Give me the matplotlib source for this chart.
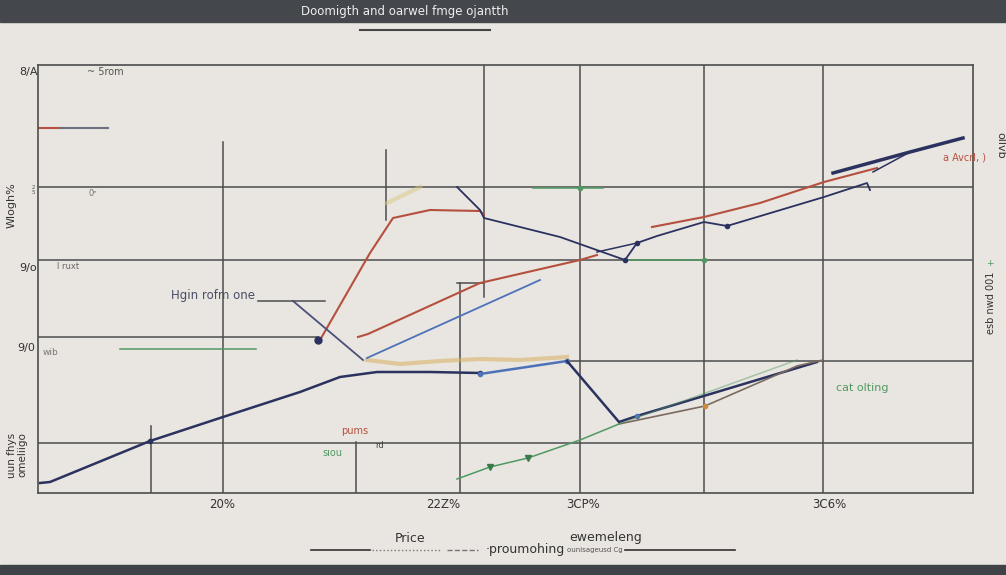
import matplotlib
matplotlib.use("Agg")
import matplotlib.pyplot as plt
from matplotlib.lines import Line2D
from matplotlib.patches import Rectangle

W, H = 1006, 575
BG = "#e9e5e0"
GRID = "#4d4d4f"
NAVY = "#2b3260"
RED = "#b5503f"
BLUE = "#4d72b8"
GREEN = "#4f9a62"
BROWN = "#7a6a60"

# series (x across, y down from the top of the plot)
navy_x = [40, 50, 150, 223, 300, 340, 377, 430, 480]
navy_y = [483, 482, 441, 417, 392, 377, 372, 372, 373]
link_x = [480, 567]
link_y = [374, 361]
drop_x = [567, 619, 637, 817]
drop_y = [361, 422, 416, 362]
brown_x = [619, 705, 797, 823]
brown_y = [424, 406, 366, 360]
green_x = [457, 490, 528, 580, 619]
green_y = [479, 467, 458, 440, 424]
green_faint_x = [619, 700, 797]
green_faint_y = [424, 395, 360]
red_up_x = [320, 347, 370, 393, 430, 480, 484]
red_up_y = [340, 293, 253, 218, 210, 211, 215]
mid_x = [457, 480, 484, 560, 625, 637, 657, 704, 727, 824, 867, 870]
mid_y = [187, 210, 218, 237, 260, 243, 236, 222, 226, 197, 183, 190]
red_low_x = [358, 368, 480, 580, 597]
red_low_y = [337, 334, 283, 260, 255]
red_right_x = [652, 704, 760, 824, 877]
red_right_y = [227, 217, 203, 182, 168]
blue_low_x = [367, 540]
blue_low_y = [358, 280]
top_x = [833, 910, 963]
top_y = [173, 152, 138]
high_x = [293, 363]
high_y = [301, 360]
haze_x = [367, 400, 440, 480, 520, 567]
haze_y = [360, 364, 361, 359, 360, 357]

# grid segments: (position, start, end)
vsegs = [(151, 426, 493), (223, 142, 493), (356, 442, 493), (386, 150, 220),
         (484, 65, 297), (460, 283, 493), (580, 65, 493), (704, 65, 493), (823, 65, 493)]
hsegs = [(187, 38, 973), (260, 38, 973), (337, 38, 318), (361, 567, 973),
         (443, 38, 973), (283, 457, 484), (301, 258, 325)]
green_segs = [(349, 120, 256), (188, 533, 603), (260, 627, 704)]

xticks = [222, 443, 583, 829]
xtick_labels = ["20%", "22Z%", "3CP%", "3C6%"]


def fx(x):
    return x / W


def fy(y):
    return 1 - y / H


fig = plt.figure(figsize=(W / 100, H / 100), dpi=100, facecolor=BG)
fig.patches.append(Rectangle((0, fy(22)), 1, 22 / H, transform=fig.transFigure,
                             color="#44474c", zorder=0))
fig.patches.append(Rectangle((0, 0), 1, 10 / H, transform=fig.transFigure,
                             color="#3f4246", zorder=0))

ax = fig.add_axes([fx(38), fy(493), (973 - 38) / W, (493 - 65) / H])
ax.set_facecolor(BG)
ax.set_xlim(38, 973)
ax.set_ylim(493, 65)
ax.set_xticks([])
ax.set_yticks([])
for s in ax.spines.values():
    s.set_color(GRID)
    s.set_linewidth(1.2)

for x, a, b in vsegs:
    ax.plot([x, x], [a, b], color=GRID, lw=1.1)
for y, a, b in hsegs:
    ax.plot([a, b], [y, y], color=GRID, lw=1.1)
for y, a, b in green_segs:
    ax.plot([a, b], [y, y], color=GREEN, lw=1.1)
ax.plot([580, 704], [188, 260], ls="none", marker="o", ms=3, color=GREEN)
ax.plot([38, 60], [128, 128], color=RED, lw=1.5)
ax.plot([60, 108], [128, 128], color="#6c6f80", lw=1.5)

ax.plot(haze_x, haze_y, color="#d8b060", lw=3, alpha=0.55)
ax.plot([387, 420], [203, 187], color="#d8c880", lw=3, alpha=0.5)

ax.plot(navy_x, navy_y, color=NAVY, lw=1.8)
ax.plot([150, 480], [441, 373], ls="none", marker="o", ms=3, color=NAVY)
ax.plot(link_x, link_y, color=BLUE, lw=1.8, marker="o", ms=3)
ax.plot(drop_x, drop_y, color=NAVY, lw=1.8)
ax.plot([637], [416], marker="o", ms=3, color=BLUE)
ax.plot(brown_x, brown_y, color=BROWN, lw=1.2)
ax.plot([705], [406], marker="o", ms=3, color="#d08a40")
ax.plot(green_x, green_y, color=GREEN, lw=1.1)
ax.plot(green_faint_x, green_faint_y, color=GREEN, lw=1.1, alpha=0.45)
ax.plot([490, 528], [467, 458], ls="none", marker="v", ms=4, color="#3a7a48")
ax.plot(red_up_x, red_up_y, color=RED, lw=1.5)
ax.plot(mid_x, mid_y, color=NAVY, lw=1.3)
ax.plot([625, 637, 727], [260, 243, 226], ls="none", marker="o", ms=3, color=NAVY)
ax.plot(red_low_x, red_low_y, color=RED, lw=1.5)
ax.plot([597, 637], [252, 243], color=NAVY, lw=1.1)
ax.plot(red_right_x, red_right_y, color=RED, lw=1.5)
ax.plot(blue_low_x, blue_low_y, color=BLUE, lw=1.3)
ax.plot(top_x, top_y, color=NAVY, lw=2.5)
ax.plot([873, 910], [172, 152], color=NAVY, lw=1.1)
ax.plot(high_x, high_y, color="#4a5078", lw=1.3)
ax.plot([318], [340], marker="o", ms=5, color=NAVY)

# texts inside the plot
ax.text(213, 296, "Hgin rofm one", fontsize=8.5, color="#4a4e66", ha="center", va="center")
ax.text(355, 431, "pums", fontsize=7, color=RED, ha="center", va="center")
ax.text(332, 453, "sıou", fontsize=7, color=GREEN, ha="center", va="center")
ax.text(380, 446, "rd", fontsize=6, color="#444", ha="center", va="center")
ax.text(862, 388, "cat olting", fontsize=8, color=GREEN, ha="center", va="center")
ax.text(964, 157, "a Avcrl, )", fontsize=7, color=RED, ha="center", va="center")
ax.text(105, 72, "~ 5rom", fontsize=7, color="#555", ha="center", va="center")
ax.text(93, 193, "0ᵉ", fontsize=6, color="#777", ha="center", va="center")
ax.text(68, 267, "l ruxt", fontsize=6, color="#666", ha="center", va="center")
ax.text(50, 353, "wib", fontsize=6.5, color="#777", ha="center", va="center")

for x, lab in zip(xticks, xtick_labels):
    fig.text(fx(x), fy(505), lab, fontsize=8.5, color="#333", ha="center", va="center")

# left and right labels
fig.text(fx(28), fy(72), "8/A", fontsize=8, color="#333", ha="center", va="center")
fig.text(fx(28), fy(268), "9/o", fontsize=8, color="#333", ha="center", va="center")
fig.text(fx(26), fy(348), "9/0", fontsize=8, color="#333", ha="center", va="center")
fig.text(fx(33), fy(190), "2\n5", fontsize=4, color="#555", ha="center", va="center")
fig.text(fx(12), fy(205), "Wlogh%", fontsize=8, color="#333", rotation=90, ha="center", va="center")
fig.text(fx(17), fy(455), "uun fhys\nomeliigo", fontsize=7.5, color="#333", rotation=90,
         ha="center", va="center", linespacing=1.0)
fig.text(fx(1000), fy(145), "ollvb", fontsize=8, color="#333", rotation=-90, ha="center", va="center")
fig.text(fx(991), fy(303), "esb nwd 001", fontsize=7, color="#333", rotation=90,
         ha="center", va="center")
fig.text(fx(990), fy(263), "+", fontsize=6.5, color=GREEN, ha="center", va="center")

# header
fig.text(fx(405), fy(12), "Doomigth and oarwel fmge ojantth", fontsize=8.5, color="#eeeeee",
         ha="center", va="center")
fig.lines.append(Line2D([fx(360), fx(490)], [fy(30), fy(30)], transform=fig.transFigure,
                        color="#444", lw=1.5))

# bottom legend
fig.text(fx(410), fy(538), "Price", fontsize=9, color="#333", ha="center", va="center")
fig.text(fx(606), fy(538), "ewemeleng", fontsize=9, color="#333", ha="center", va="center")
fig.text(fx(525), fy(550), "·proumohing", fontsize=9, color="#333", ha="center", va="center")
fig.text(fx(595), fy(550), "ounisageusd Cg", fontsize=5, color="#555", ha="center", va="center")
fig.lines.append(Line2D([fx(311), fx(370)], [fy(550), fy(550)], transform=fig.transFigure,
                        color="#333", lw=1.2))
fig.lines.append(Line2D([fx(372), fx(440)], [fy(550), fy(550)], transform=fig.transFigure,
                        color="#777", lw=1.0, ls=":"))
fig.lines.append(Line2D([fx(447), fx(478)], [fy(550), fy(550)], transform=fig.transFigure,
                        color="#777", lw=1.0, ls="--"))
fig.lines.append(Line2D([fx(625), fx(735)], [fy(550), fy(550)], transform=fig.transFigure,
                        color="#333", lw=1.2))

fig.savefig("out.png", dpi=100, facecolor=BG)
